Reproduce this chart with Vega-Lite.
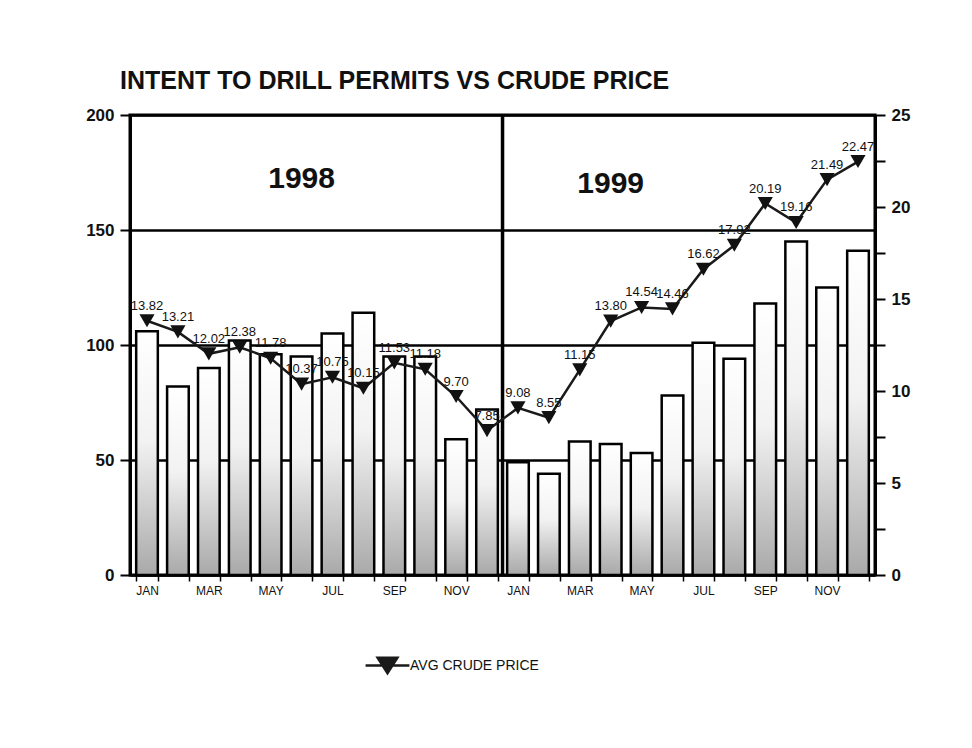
{
  "$schema": "https://vega.github.io/schema/vega-lite/v6.json",
  "width": 745,
  "height": 460,
  "autosize": {"type": "none"},
  "padding": {"left": 130, "top": 115, "right": 97, "bottom": 173},
  "background": "white",
  "config": {
    "font": "Liberation Sans",
    "view": {"stroke": "black", "strokeWidth": 3},
    "axis": {"domainColor": "black", "tickColor": "black", "labelColor": "#111", "titleColor": "#111"}
  },
  "title": {
    "text": "INTENT TO DRILL PERMITS VS CRUDE PRICE",
    "anchor": "start",
    "frame": "group",
    "fontSize": 25,
    "fontWeight": "bold",
    "offset": 12,
    "dx": -10,
    "color": "#111"
  },
  "datasets": {
    "main": [
      {"month": "JAN 98", "permits": 106, "price": 13.82},
      {"month": "FEB 98", "permits": 82, "price": 13.21},
      {"month": "MAR 98", "permits": 90, "price": 12.02},
      {"month": "APR 98", "permits": 102, "price": 12.38},
      {"month": "MAY 98", "permits": 96, "price": 11.78},
      {"month": "JUN 98", "permits": 95, "price": 10.37},
      {"month": "JUL 98", "permits": 105, "price": 10.75},
      {"month": "AUG 98", "permits": 114, "price": 10.15},
      {"month": "SEP 98", "permits": 95, "price": 11.53},
      {"month": "OCT 98", "permits": 95, "price": 11.18},
      {"month": "NOV 98", "permits": 59, "price": 9.70},
      {"month": "DEC 98", "permits": 72, "price": 7.85},
      {"month": "JAN 99", "permits": 49, "price": 9.08},
      {"month": "FEB 99", "permits": 44, "price": 8.55},
      {"month": "MAR 99", "permits": 58, "price": 11.15},
      {"month": "APR 99", "permits": 57, "price": 13.80},
      {"month": "MAY 99", "permits": 53, "price": 14.54},
      {"month": "JUN 99", "permits": 78, "price": 14.46},
      {"month": "JUL 99", "permits": 101, "price": 16.62},
      {"month": "AUG 99", "permits": 94, "price": 17.92},
      {"month": "SEP 99", "permits": 118, "price": 20.19},
      {"month": "OCT 99", "permits": 145, "price": 19.16},
      {"month": "NOV 99", "permits": 125, "price": 21.49},
      {"month": "DEC 99", "permits": 141, "price": 22.47}
    ],
    "years": [
      {"month": "JUN 98", "level": 172, "year": "1998"},
      {"month": "APR 99", "level": 170, "year": "1999"}
    ],
    "divider": [
      {"month": "JAN 99"}
    ]
  },
  "data": {"name": "main"},
  "layer": [
    {
      "layer": [
        {
          "mark": {
            "type": "bar",
            "stroke": "black",
            "strokeWidth": 2.5,
            "color": {
              "gradient": "linear",
              "x1": 0, "y1": 0, "x2": 0, "y2": 1,
              "stops": [
                {"offset": 0, "color": "#ffffff"},
                {"offset": 0.45, "color": "#f2f2f2"},
                {"offset": 1, "color": "#a9a9a9"}
              ]
            }
          },
          "encoding": {
            "x": {
              "field": "month",
              "type": "nominal",
              "sort": null,
              "scale": {
                "domain": ["JAN 98","FEB 98","MAR 98","APR 98","MAY 98","JUN 98","JUL 98","AUG 98","SEP 98","OCT 98","NOV 98","DEC 98","JAN 99","FEB 99","MAR 99","APR 99","MAY 99","JUN 99","JUL 99","AUG 99","SEP 99","OCT 99","NOV 99","DEC 99"],
                "paddingInner": 0.3,
                "paddingOuter": 0.2
              },
              "axis": {
                "title": null,
                "labelAngle": 0,
                "labelFontSize": 12,
                "labelPadding": 4,
                "tickBand": "extent",
                "tickSize": 6,
                "tickWidth": 1.5,
                "domainWidth": 2,
                "labelExpr": "indexof(['JAN','MAR','MAY','JUL','SEP','NOV'], slice(datum.label,0,3)) >= 0 ? slice(datum.label,0,3) : ''"
              }
            },
            "y": {
              "field": "permits",
              "type": "quantitative",
              "scale": {"domain": [0, 200], "nice": false},
              "axis": {
                "title": null,
                "orient": "left",
                "values": [0, 50, 100, 150, 200],
                "grid": true,
                "gridColor": "black",
                "gridWidth": 2.5,
                "labelFontSize": 17,
                "labelFontWeight": "bold",
                "labelPadding": 6,
                "tickSize": 10,
                "tickWidth": 2,
                "domainWidth": 3
              }
            }
          }
        },
        {
          "data": {"name": "divider"},
          "mark": {"type": "rule", "color": "black", "strokeWidth": 3.5, "xOffset": -4.6},
          "encoding": {
            "x": {"field": "month", "type": "nominal", "sort": null, "bandPosition": 0}
          }
        },
        {
          "data": {"name": "years"},
          "mark": {"type": "text", "fontSize": 30, "fontWeight": "bold", "color": "#111", "align": "center", "baseline": "middle"},
          "encoding": {
            "x": {"field": "month", "type": "nominal", "sort": null, "bandPosition": 0.5},
            "y": {"field": "level", "type": "quantitative"},
            "text": {"field": "year"}
          }
        }
      ]
    },
    {
      "layer": [
        {
          "mark": {"type": "line", "strokeWidth": 2.5},
          "encoding": {
            "x": {"field": "month", "type": "nominal", "sort": null},
            "y": {
              "field": "price",
              "type": "quantitative",
              "scale": {"domain": [0, 25], "nice": false},
              "axis": {
                "title": null,
                "orient": "right",
                "values": [0, 2.5, 5, 7.5, 10, 12.5, 15, 17.5, 20, 22.5, 25],
                "labelExpr": "datum.value % 5 == 0 ? datum.label : ''",
                "grid": false,
                "labelFontSize": 17,
                "labelFontWeight": "bold",
                "labelPadding": 6,
                "tickSize": 10,
                "tickWidth": 2,
                "domainWidth": 3
              }
            },
            "color": {
              "datum": "AVG CRUDE PRICE",
              "scale": {"range": ["#1a1a1a"]},
              "legend": {
                "title": null,
                "orient": "none",
                "legendX": 245,
                "legendY": 538,
                "labelFontSize": 14,
                "labelColor": "#111",
                "labelOffset": 10,
                "symbolType": "M -2 0 L 2 0 M -0.9 -0.7 L 0.9 -0.7 L 0 0.7 Z",
                "symbolSize": 480,
                "symbolStrokeWidth": 2.5,
                "symbolFillColor": "#1a1a1a",
                "symbolStrokeColor": "#1a1a1a"
              }
            }
          }
        },
        {
          "mark": {"type": "point", "shape": "triangle-down", "filled": true, "color": "#111", "size": 230, "opacity": 1},
          "encoding": {
            "x": {"field": "month", "type": "nominal", "sort": null},
            "y": {"field": "price", "type": "quantitative"}
          }
        },
        {
          "mark": {"type": "text", "fontSize": 13, "dy": -15, "color": "#111"},
          "encoding": {
            "x": {"field": "month", "type": "nominal", "sort": null},
            "y": {"field": "price", "type": "quantitative"},
            "text": {"field": "price", "type": "quantitative", "format": ".2f"}
          }
        }
      ]
    }
  ],
  "resolve": {"scale": {"y": "independent"}}
}
